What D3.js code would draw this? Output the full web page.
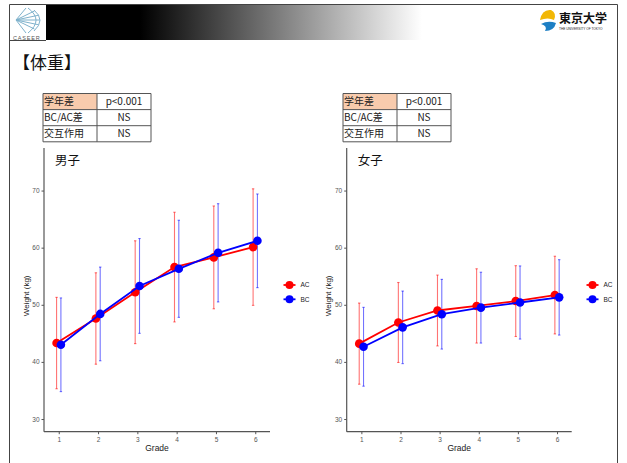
<!DOCTYPE html>
<html>
<head>
<meta charset="utf-8">
<script src="https://cdn.jsdelivr.net/npm/d3@7"></script>
<style>
  body { margin: 0; background: #fff; }
  svg { display: block; font-family: "Liberation Sans", Arial, sans-serif; }
  .jp { font-family: "Noto Sans CJK JP", "Noto Sans", sans-serif; }
</style>
</head>
<body>
<svg id="slide" width="627" height="463"></svg>
<script>
// データ
const grades = [1, 2, 3, 4, 5, 6];
const groups = ["AC", "BC"];

const boysAC = [43.3, 47.6, 52.2, 56.6, 58.3, 60.1];
const boysACsd = [8.0, 8.0, 9.0, 9.6, 9.0, 10.2];
const boysBC = [43.0, 48.4, 53.3, 56.3, 59.1, 61.2];
const boysBCsd = [8.2, 8.2, 8.3, 8.5, 8.6, 8.2];

const girlsAC = [43.2, 46.9, 49.0, 49.8, 50.65, 51.7];
const girlsACsd = [7.1, 7.0, 6.2, 6.5, 6.2, 6.8];
const girlsBC = [42.65, 46.05, 48.35, 49.5, 50.4, 51.3];
const girlsBCsd = [6.9, 6.35, 6.1, 6.2, 6.4, 6.6];

const yTicks = [30, 40, 50, 60, 70];
const tableRows = [["学年差", "p<0.001"], ["BC/AC差", "NS"], ["交互作用", "NS"]];

const COLORS = { AC: "#ff0000", BC: "#0000ff" };
const DODGE = { AC: -0.055, BC: 0.055 };

const svg = d3.select("#slide");
svg.append("rect").attr("width", 627).attr("height", 463).attr("fill", "#fff");

// ヘッダー
function drawHeader() {
  let defs = svg.append("defs");
  let grad = defs.append("linearGradient").attr("id", "hdr")
    .attr("x1", "0%").attr("x2", "100%").attr("y1", "0%").attr("y2", "0%");
  grad.append("stop").attr("offset", "0%").attr("stop-color", "#000");
  grad.append("stop").attr("offset", "25%").attr("stop-color", "#000");
  grad.append("stop").attr("offset", "100%").attr("stop-color", "#fff");

  svg.append("rect").attr("x", 46).attr("y", 4).attr("width", 376).attr("height", 36)
    .attr("fill", "url(#hdr)");

  // 枠線
  svg.append("path").attr("d", "M9.5,463 V4.5 H617.5 V463")
    .attr("fill", "none").attr("stroke", "#444").attr("stroke-width", 1);
  svg.append("line").attr("x1", 9).attr("x2", 46).attr("y1", 40.5).attr("y2", 40.5)
    .attr("stroke", "#444");

  // CASEER ロゴ（簡略）
  let logo = svg.append("g").attr("stroke", "#7fb2cc").attr("fill", "none").attr("stroke-width", 1);
  [-40, -20, 0, 20, 40].forEach(function(a) {
    let r = a * Math.PI / 180;
    logo.append("line").attr("x1", 16).attr("y1", 20)
      .attr("x2", 16 + 24 * Math.cos(r)).attr("y2", 20 + 14 * Math.sin(r));
  });
  logo.append("path").attr("d", "M28,8 Q44,20 28,33 M34,10 Q46,20 34,31 M16,20 L26,8 M16,20 L26,33");
  svg.append("text").attr("x", 13).attr("y", 40).attr("font-size", 5.5)
    .attr("fill", "#555").attr("letter-spacing", 0.8).text("CASEER");

  // 東京大学 ロゴ（簡略）
  svg.append("path").attr("d", "M540,20 Q542,9 551,10 Q557,13 554,20 Q548,17 540,20 Z")
    .attr("fill", "#f2b705");
  svg.append("path").attr("d", "M541,24 Q548,20 556,23 Q554,31 545,31 Q548,26 541,24 Z")
    .attr("fill", "#1d7fc4");
  svg.append("text").attr("x", 559).attr("y", 23).attr("class", "jp")
    .attr("font-size", 12).attr("font-weight", "bold").attr("fill", "#111")
    .text("東京大学");
  svg.append("text").attr("x", 559).attr("y", 30).attr("font-size", 3.2)
    .attr("fill", "#222").text("THE UNIVERSITY OF TOKYO");

  svg.append("text").attr("x", 13).attr("y", 69).attr("class", "jp")
    .attr("font-size", 17).attr("fill", "#111").text("【体重】");
}

function drawTable(x0, y0) {
  const w1 = 54, w2 = 54, h = 16.1;
  let g = svg.append("g").attr("transform", "translate(" + x0 + "," + y0 + ")");
  g.append("rect").attr("x", 0).attr("y", 0).attr("width", w1).attr("height", h)
    .attr("fill", "#f8cbad");
  tableRows.forEach(function(row, i) {
    g.append("text").attr("class", "jp").attr("x", 1).attr("y", i * h + h / 2 + 3.6)
      .attr("font-size", 10).attr("fill", "#222").text(row[0]);
    g.append("text").attr("class", "jp").attr("x", w1 + w2 / 2).attr("y", i * h + h / 2 + 3.6)
      .attr("font-size", 10).attr("fill", "#222").attr("text-anchor", "middle").text(row[1]);
  });
  for (let i = 0; i <= 3; i++) {
    g.append("line").attr("x1", 0).attr("x2", w1 + w2).attr("y1", i * h).attr("y2", i * h)
      .attr("stroke", "#555");
  }
  [0, w1, w1 + w2].forEach(function(x) {
    g.append("line").attr("x1", x).attr("x2", x).attr("y1", 0).attr("y2", 3 * h)
      .attr("stroke", "#555");
  });
}

function drawPanel(left, right, title, series, legendX) {
  const top = 148, bottom = 431.7;

  let x = d3.scaleLinear().domain([0.625, 6.375]).range([left, right]);
  let y = d3.scaleLinear().domain([27.78, 77.45]).range([bottom, top]);

  let g = svg.append("g");

  g.append("g")
    .attr("transform", "translate(" + left + ",0)")
    .call(d3.axisLeft(y).tickValues(yTicks).tickSize(2.5).tickPadding(2))
    .call(function(a) {
      a.select(".domain").attr("stroke", "#555").attr("stroke-width", 1.2)
        .attr("d", "M0," + top + "V" + bottom);
      a.selectAll(".tick line").attr("stroke", "#555");
      a.selectAll("text").attr("fill", "#555").attr("font-size", 6.5)
        .attr("font-family", "Liberation Sans, Arial, sans-serif");
    });

  g.append("g")
    .attr("transform", "translate(0," + bottom + ")")
    .call(d3.axisBottom(x).tickValues(grades).tickFormat(d3.format("d")).tickSize(2.5).tickPadding(3))
    .call(function(a) {
      a.select(".domain").attr("stroke", "#555").attr("stroke-width", 1.2)
        .attr("d", "M" + left + ",0H" + right);
      a.selectAll(".tick line").attr("stroke", "#555");
      a.selectAll("text").attr("fill", "#555").attr("font-size", 6.5)
        .attr("font-family", "Liberation Sans, Arial, sans-serif");
    });

  g.append("text").attr("x", (left + right) / 2).attr("y", 451)
    .attr("text-anchor", "middle").attr("font-size", 8.5).attr("fill", "#222").text("Grade");
  g.append("text")
    .attr("transform", "translate(" + (left - 15.5) + "," + ((top + bottom) / 2 + 6) + ") rotate(-90)")
    .attr("text-anchor", "middle").attr("font-size", 8).attr("fill", "#222").text("Weight (kg)");

  g.append("text").attr("class", "jp").attr("x", left + 11).attr("y", 165)
    .attr("font-size", 12.5).attr("fill", "#111").text(title);

  // エラーバー
  series.forEach(function(s) {
    let pts = grades.map(function(gr, i) {
      return { g: gr, m: s.mean[i], sd: s.sd[i] };
    });
    let bars = g.append("g").attr("stroke", COLORS[s.name]).attr("stroke-opacity", 0.55)
      .attr("stroke-width", 1.1);
    pts.forEach(function(p) {
      let cx = x(p.g + DODGE[s.name]);
      bars.append("line").attr("x1", cx).attr("x2", cx)
        .attr("y1", y(p.m - p.sd)).attr("y2", y(p.m + p.sd));
      [p.m - p.sd, p.m + p.sd].forEach(function(v) {
        bars.append("line").attr("x1", cx - 1.2).attr("x2", cx + 1.2)
          .attr("y1", y(v)).attr("y2", y(v));
      });
    });
  });

  series.forEach(function(s) {
    let pts = grades.map(function(gr, i) { return [gr + DODGE[s.name], s.mean[i]]; });
    g.append("path")
      .attr("d", d3.line().x(d => x(d[0])).y(d => y(d[1]))(pts))
      .attr("fill", "none").attr("stroke", COLORS[s.name]).attr("stroke-width", 1.8);
    g.selectAll(null).data(pts).join("circle")
      .attr("cx", d => x(d[0])).attr("cy", d => y(d[1])).attr("r", 4.3)
      .attr("fill", COLORS[s.name]);
  });

  // 凡例
  groups.forEach(function(name, i) {
    let ly = 285 + i * 14.3;
    g.append("line").attr("x1", legendX - 6).attr("x2", legendX + 6).attr("y1", ly).attr("y2", ly)
      .attr("stroke", COLORS[name]).attr("stroke-width", 1.8);
    g.append("circle").attr("cx", legendX).attr("cy", ly).attr("r", 4).attr("fill", COLORS[name]);
    g.append("text").attr("x", legendX + 11).attr("y", ly + 2.3).attr("font-size", 6.5)
      .attr("fill", "#222").text(name);
  });
}

drawHeader();
drawTable(43, 93.5);
drawTable(343, 93.5);
drawPanel(44, 270, "男子", [
  { name: "AC", mean: boysAC, sd: boysACsd },
  { name: "BC", mean: boysBC, sd: boysBCsd }
], 289.5);
drawPanel(346.7, 571.7, "女子", [
  { name: "AC", mean: girlsAC, sd: girlsACsd },
  { name: "BC", mean: girlsBC, sd: girlsBCsd }
], 592.5);
</script>
</body>
</html>
